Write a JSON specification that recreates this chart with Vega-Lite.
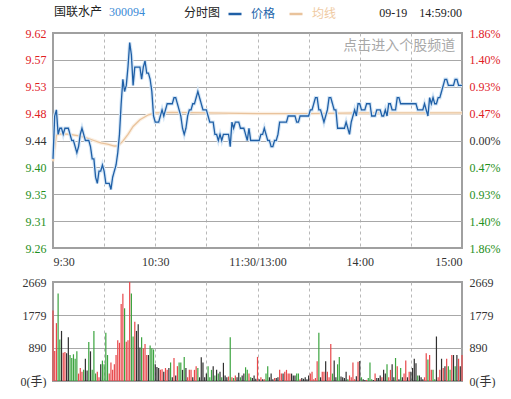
{
"$schema": "https://vega.github.io/schema/vega-lite/v6.json",
"background": "white",
"padding": {"left": 7, "top": 6, "right": 0, "bottom": 0},
"spacing": 7,
"config": {
  "view": {"stroke": "#a0a0a0", "strokeWidth": 2},
  "axis": {"labelFont": "Liberation Serif, Noto Sans CJK SC", "labelFontSize": 12, "labelColor": "#333333", "ticks": false, "domain": false, "title": null, "gridColor": "#a8a8a8", "gridWidth": 1},
  "legend": {"padding": 0, "titleFontWeight": "normal", "titleFontSize": 12, "labelFontSize": 12, "titleColor": "#222222", "titleFont": "Noto Sans CJK SC", "labelFont": "Noto Sans CJK SC"}
},
"datasets": {
  "price": [
{"t":0,"p":9.41},{"t":1,"p":9.48},{"t":2,"p":9.49},{"t":3,"p":9.45},{"t":4,"p":9.46},{"t":5,"p":9.46},{"t":6,"p":9.45},{"t":7,"p":9.46},{"t":8,"p":9.46},{"t":9,"p":9.46},
{"t":10,"p":9.45},{"t":11,"p":9.44},{"t":12,"p":9.44},{"t":13,"p":9.43},{"t":14,"p":9.42},{"t":15,"p":9.43},{"t":16,"p":9.45},{"t":17,"p":9.46},{"t":18,"p":9.45},{"t":19,"p":9.44},
{"t":20,"p":9.44},{"t":21,"p":9.44},{"t":22,"p":9.43},{"t":23,"p":9.41},{"t":24,"p":9.41},{"t":25,"p":9.38},{"t":26,"p":9.37},{"t":27,"p":9.39},{"t":28,"p":9.39},{"t":29,"p":9.40},
{"t":30,"p":9.39},{"t":31,"p":9.37},{"t":32,"p":9.37},{"t":33,"p":9.37},{"t":34,"p":9.36},{"t":35,"p":9.38},{"t":36,"p":9.39},{"t":37,"p":9.40},{"t":38,"p":9.42},{"t":39,"p":9.45},
{"t":40,"p":9.50},{"t":41,"p":9.54},{"t":42,"p":9.52},{"t":43,"p":9.53},{"t":44,"p":9.56},{"t":45,"p":9.60},{"t":46,"p":9.58},{"t":47,"p":9.53},{"t":48,"p":9.56},{"t":49,"p":9.56},
{"t":50,"p":9.56},{"t":51,"p":9.56},{"t":52,"p":9.54},{"t":53,"p":9.56},{"t":54,"p":9.57},{"t":55,"p":9.55},{"t":56,"p":9.55},{"t":57,"p":9.54},{"t":58,"p":9.52},{"t":59,"p":9.48},
{"t":60,"p":9.47},{"t":61,"p":9.47},{"t":62,"p":9.47},{"t":63,"p":9.48},{"t":64,"p":9.49},{"t":65,"p":9.48},{"t":66,"p":9.49},{"t":67,"p":9.50},{"t":68,"p":9.50},{"t":69,"p":9.50},
{"t":70,"p":9.50},{"t":71,"p":9.51},{"t":72,"p":9.51},{"t":73,"p":9.50},{"t":74,"p":9.49},{"t":75,"p":9.48},{"t":76,"p":9.46},{"t":77,"p":9.45},{"t":78,"p":9.46},{"t":79,"p":9.48},
{"t":80,"p":9.49},{"t":81,"p":9.49},{"t":82,"p":9.50},{"t":83,"p":9.50},{"t":84,"p":9.51},{"t":85,"p":9.52},{"t":86,"p":9.51},{"t":87,"p":9.50},{"t":88,"p":9.49},{"t":89,"p":9.49},
{"t":90,"p":9.49},{"t":91,"p":9.48},{"t":92,"p":9.47},{"t":93,"p":9.47},{"t":94,"p":9.47},{"t":95,"p":9.45},{"t":96,"p":9.45},{"t":97,"p":9.44},{"t":98,"p":9.45},{"t":99,"p":9.44},
{"t":100,"p":9.45},{"t":101,"p":9.45},{"t":102,"p":9.45},{"t":103,"p":9.45},{"t":104,"p":9.43},{"t":105,"p":9.47},{"t":106,"p":9.46},{"t":107,"p":9.47},{"t":108,"p":9.47},{"t":109,"p":9.47},
{"t":110,"p":9.46},{"t":111,"p":9.46},{"t":112,"p":9.46},{"t":113,"p":9.45},{"t":114,"p":9.44},{"t":115,"p":9.46},{"t":116,"p":9.44},{"t":117,"p":9.44},{"t":118,"p":9.44},{"t":119,"p":9.44},
{"t":120,"p":9.44},{"t":121,"p":9.44},{"t":122,"p":9.45},{"t":123,"p":9.45},{"t":124,"p":9.46},{"t":125,"p":9.45},{"t":126,"p":9.44},{"t":127,"p":9.44},{"t":128,"p":9.43},{"t":129,"p":9.43},
{"t":130,"p":9.44},{"t":131,"p":9.44},{"t":132,"p":9.45},{"t":133,"p":9.47},{"t":134,"p":9.47},{"t":135,"p":9.47},{"t":136,"p":9.47},{"t":137,"p":9.47},{"t":138,"p":9.48},{"t":139,"p":9.48},
{"t":140,"p":9.48},{"t":141,"p":9.48},{"t":142,"p":9.48},{"t":143,"p":9.47},{"t":144,"p":9.47},{"t":145,"p":9.48},{"t":146,"p":9.48},{"t":147,"p":9.48},{"t":148,"p":9.48},{"t":149,"p":9.48},
{"t":150,"p":9.48},{"t":151,"p":9.49},{"t":152,"p":9.49},{"t":153,"p":9.50},{"t":154,"p":9.51},{"t":155,"p":9.51},{"t":156,"p":9.49},{"t":157,"p":9.49},{"t":158,"p":9.48},{"t":159,"p":9.47},
{"t":160,"p":9.48},{"t":161,"p":9.49},{"t":162,"p":9.51},{"t":163,"p":9.51},{"t":164,"p":9.50},{"t":165,"p":9.49},{"t":166,"p":9.49},{"t":167,"p":9.46},{"t":168,"p":9.46},{"t":169,"p":9.46},
{"t":170,"p":9.46},{"t":171,"p":9.46},{"t":172,"p":9.47},{"t":173,"p":9.46},{"t":174,"p":9.45},{"t":175,"p":9.47},{"t":176,"p":9.48},{"t":177,"p":9.49},{"t":178,"p":9.48},{"t":179,"p":9.50},
{"t":180,"p":9.50},{"t":181,"p":9.49},{"t":182,"p":9.49},{"t":183,"p":9.49},{"t":184,"p":9.50},{"t":185,"p":9.50},{"t":186,"p":9.50},{"t":187,"p":9.48},{"t":188,"p":9.48},{"t":189,"p":9.48},
{"t":190,"p":9.49},{"t":191,"p":9.49},{"t":192,"p":9.49},{"t":193,"p":9.48},{"t":194,"p":9.48},{"t":195,"p":9.49},{"t":196,"p":9.48},{"t":197,"p":9.50},{"t":198,"p":9.50},{"t":199,"p":9.49},
{"t":200,"p":9.49},{"t":201,"p":9.49},{"t":202,"p":9.51},{"t":203,"p":9.51},{"t":204,"p":9.50},{"t":205,"p":9.50},{"t":206,"p":9.50},{"t":207,"p":9.50},{"t":208,"p":9.50},{"t":209,"p":9.50},
{"t":210,"p":9.50},{"t":211,"p":9.50},{"t":212,"p":9.50},{"t":213,"p":9.50},{"t":214,"p":9.49},{"t":215,"p":9.49},{"t":216,"p":9.49},{"t":217,"p":9.49},{"t":218,"p":9.50},{"t":219,"p":9.49},
{"t":220,"p":9.48},{"t":221,"p":9.51},{"t":222,"p":9.50},{"t":223,"p":9.51},{"t":224,"p":9.50},{"t":225,"p":9.50},{"t":226,"p":9.51},{"t":227,"p":9.51},{"t":228,"p":9.52},{"t":229,"p":9.53},
{"t":230,"p":9.54},{"t":231,"p":9.54},{"t":232,"p":9.53},{"t":233,"p":9.53},{"t":234,"p":9.53},{"t":235,"p":9.53},{"t":236,"p":9.54},{"t":237,"p":9.54},{"t":238,"p":9.53},{"t":239,"p":9.53},
{"t":240,"p":9.53}
  ],
  "avg": [
{"t":0,"a":9.406},{"t":2,"a":9.449},{"t":5,"a":9.451},{"t":10,"a":9.450},{"t":16,"a":9.447},{"t":20,"a":9.444},{"t":24,"a":9.440},{"t":28,"a":9.436},{"t":32,"a":9.434},{"t":36,"a":9.431},
{"t":38,"a":9.431},{"t":41,"a":9.439},{"t":44,"a":9.450},{"t":47,"a":9.463},{"t":51,"a":9.474},{"t":56,"a":9.482},{"t":60,"a":9.485},{"t":70,"a":9.486},{"t":90,"a":9.485},{"t":120,"a":9.484},
{"t":150,"a":9.484},{"t":180,"a":9.485},{"t":210,"a":9.485},{"t":240,"a":9.485}
  ],
  "vol": [
{"t":0,"v":1900,"d":"up"},{"t":1,"v":810,"d":"up"},{"t":2,"v":1560,"d":"up"},{"t":3,"v":2360,"d":"down"},{"t":4,"v":1120,"d":"down"},{"t":5,"v":1350,"d":"flat"},{"t":6,"v":760,"d":"up"},{"t":7,"v":780,"d":"up"},{"t":8,"v":750,"d":"flat"},{"t":9,"v":1180,"d":"flat"},
{"t":10,"v":700,"d":"down"},{"t":11,"v":620,"d":"down"},{"t":12,"v":720,"d":"down"},{"t":13,"v":600,"d":"down"},{"t":14,"v":800,"d":"down"},{"t":15,"v":200,"d":"up"},{"t":16,"v":350,"d":"up"},{"t":17,"v":250,"d":"up"},{"t":18,"v":300,"d":"down"},{"t":19,"v":600,"d":"flat"},
{"t":20,"v":280,"d":"flat"},{"t":21,"v":1050,"d":"down"},{"t":22,"v":800,"d":"flat"},{"t":23,"v":300,"d":"down"},{"t":24,"v":1350,"d":"down"},{"t":25,"v":200,"d":"down"},{"t":26,"v":250,"d":"up"},{"t":27,"v":100,"d":"up"},{"t":28,"v":450,"d":"flat"},{"t":29,"v":550,"d":"down"},
{"t":30,"v":450,"d":"down"},{"t":31,"v":1300,"d":"down"},{"t":32,"v":700,"d":"down"},{"t":33,"v":200,"d":"up"},{"t":34,"v":500,"d":"up"},{"t":35,"v":300,"d":"up"},{"t":36,"v":450,"d":"up"},{"t":37,"v":700,"d":"up"},{"t":38,"v":1100,"d":"up"},{"t":39,"v":1030,"d":"up"},
{"t":40,"v":2075,"d":"up"},{"t":41,"v":2350,"d":"up"},{"t":42,"v":1960,"d":"down"},{"t":43,"v":1060,"d":"up"},{"t":44,"v":1100,"d":"up"},{"t":45,"v":2669,"d":"up"},{"t":46,"v":2360,"d":"down"},{"t":47,"v":1200,"d":"down"},{"t":48,"v":1600,"d":"up"},{"t":49,"v":1350,"d":"flat"},
{"t":50,"v":1530,"d":"flat"},{"t":51,"v":900,"d":"flat"},{"t":52,"v":1180,"d":"down"},{"t":53,"v":880,"d":"up"},{"t":54,"v":1000,"d":"up"},{"t":55,"v":700,"d":"up"},{"t":56,"v":700,"d":"flat"},{"t":57,"v":960,"d":"down"},{"t":58,"v":880,"d":"down"},{"t":59,"v":850,"d":"down"},
{"t":60,"v":450,"d":"flat"},{"t":61,"v":380,"d":"flat"},{"t":62,"v":350,"d":"flat"},{"t":63,"v":300,"d":"up"},{"t":64,"v":320,"d":"up"},{"t":65,"v":250,"d":"flat"},{"t":66,"v":350,"d":"up"},{"t":67,"v":300,"d":"up"},{"t":68,"v":350,"d":"flat"},{"t":69,"v":500,"d":"down"},
{"t":70,"v":100,"d":"flat"},{"t":71,"v":620,"d":"up"},{"t":72,"v":150,"d":"flat"},{"t":73,"v":400,"d":"up"},{"t":74,"v":500,"d":"down"},{"t":75,"v":500,"d":"down"},{"t":76,"v":300,"d":"flat"},{"t":77,"v":650,"d":"down"},{"t":78,"v":350,"d":"flat"},{"t":79,"v":100,"d":"up"},
{"t":80,"v":300,"d":"up"},{"t":81,"v":300,"d":"up"},{"t":82,"v":100,"d":"flat"},{"t":83,"v":300,"d":"up"},{"t":84,"v":400,"d":"up"},{"t":85,"v":350,"d":"down"},{"t":86,"v":100,"d":"flat"},{"t":87,"v":640,"d":"flat"},{"t":88,"v":500,"d":"flat"},{"t":89,"v":100,"d":"flat"},
{"t":90,"v":200,"d":"flat"},{"t":91,"v":400,"d":"down"},{"t":92,"v":100,"d":"down"},{"t":93,"v":300,"d":"down"},{"t":94,"v":400,"d":"flat"},{"t":95,"v":150,"d":"down"},{"t":96,"v":300,"d":"flat"},{"t":97,"v":200,"d":"down"},{"t":98,"v":250,"d":"flat"},{"t":99,"v":100,"d":"down"},
{"t":100,"v":490,"d":"flat"},{"t":101,"v":150,"d":"flat"},{"t":102,"v":100,"d":"flat"},{"t":103,"v":120,"d":"up"},{"t":104,"v":1180,"d":"down"},{"t":105,"v":100,"d":"up"},{"t":106,"v":80,"d":"down"},{"t":107,"v":150,"d":"up"},{"t":108,"v":100,"d":"flat"},{"t":109,"v":220,"d":"flat"},
{"t":110,"v":100,"d":"down"},{"t":111,"v":150,"d":"flat"},{"t":112,"v":200,"d":"flat"},{"t":113,"v":370,"d":"down"},{"t":114,"v":300,"d":"down"},{"t":115,"v":200,"d":"up"},{"t":116,"v":100,"d":"down"},{"t":117,"v":80,"d":"flat"},{"t":118,"v":150,"d":"flat"},{"t":119,"v":60,"d":"flat"},
{"t":120,"v":650,"d":"up"},{"t":121,"v":50,"d":"flat"},{"t":122,"v":100,"d":"up"},{"t":123,"v":50,"d":"flat"},{"t":124,"v":50,"d":"up"},{"t":125,"v":200,"d":"down"},{"t":126,"v":400,"d":"down"},{"t":127,"v":100,"d":"flat"},{"t":128,"v":200,"d":"flat"},{"t":129,"v":50,"d":"flat"},
{"t":130,"v":80,"d":"up"},{"t":131,"v":80,"d":"flat"},{"t":132,"v":100,"d":"flat"},{"t":133,"v":300,"d":"up"},{"t":134,"v":200,"d":"up"},{"t":135,"v":200,"d":"flat"},{"t":136,"v":250,"d":"up"},{"t":137,"v":300,"d":"up"},{"t":138,"v":200,"d":"up"},{"t":139,"v":200,"d":"up"},
{"t":140,"v":200,"d":"flat"},{"t":141,"v":150,"d":"flat"},{"t":142,"v":150,"d":"flat"},{"t":143,"v":200,"d":"down"},{"t":144,"v":200,"d":"down"},{"t":145,"v":50,"d":"up"},{"t":146,"v":80,"d":"flat"},{"t":147,"v":60,"d":"flat"},{"t":148,"v":100,"d":"flat"},{"t":149,"v":50,"d":"flat"},
{"t":150,"v":150,"d":"flat"},{"t":151,"v":200,"d":"up"},{"t":152,"v":250,"d":"up"},{"t":153,"v":50,"d":"up"},{"t":154,"v":80,"d":"up"},{"t":155,"v":530,"d":"up"},{"t":156,"v":1300,"d":"down"},{"t":157,"v":100,"d":"flat"},{"t":158,"v":250,"d":"up"},{"t":159,"v":250,"d":"up"},
{"t":160,"v":530,"d":"flat"},{"t":161,"v":250,"d":"up"},{"t":162,"v":100,"d":"up"},{"t":163,"v":1000,"d":"up"},{"t":164,"v":200,"d":"down"},{"t":165,"v":550,"d":"flat"},{"t":166,"v":100,"d":"flat"},{"t":167,"v":450,"d":"down"},{"t":168,"v":650,"d":"down"},{"t":169,"v":120,"d":"flat"},
{"t":170,"v":100,"d":"flat"},{"t":171,"v":80,"d":"flat"},{"t":172,"v":250,"d":"flat"},{"t":173,"v":50,"d":"down"},{"t":174,"v":150,"d":"up"},{"t":175,"v":100,"d":"up"},{"t":176,"v":500,"d":"up"},{"t":177,"v":50,"d":"up"},{"t":178,"v":130,"d":"flat"},{"t":179,"v":520,"d":"up"},
{"t":180,"v":540,"d":"flat"},{"t":181,"v":100,"d":"down"},{"t":182,"v":50,"d":"flat"},{"t":183,"v":30,"d":"flat"},{"t":184,"v":30,"d":"up"},{"t":185,"v":80,"d":"down"},{"t":186,"v":500,"d":"down"},{"t":187,"v":50,"d":"down"},{"t":188,"v":30,"d":"flat"},{"t":189,"v":200,"d":"up"},
{"t":190,"v":80,"d":"flat"},{"t":191,"v":80,"d":"flat"},{"t":192,"v":150,"d":"flat"},{"t":193,"v":100,"d":"up"},{"t":194,"v":300,"d":"flat"},{"t":195,"v":200,"d":"flat"},{"t":196,"v":450,"d":"down"},{"t":197,"v":100,"d":"up"},{"t":198,"v":300,"d":"up"},{"t":199,"v":450,"d":"flat"},
{"t":200,"v":100,"d":"flat"},{"t":201,"v":620,"d":"down"},{"t":202,"v":400,"d":"up"},{"t":203,"v":50,"d":"flat"},{"t":204,"v":350,"d":"down"},{"t":205,"v":100,"d":"flat"},{"t":206,"v":200,"d":"up"},{"t":207,"v":550,"d":"up"},{"t":208,"v":100,"d":"flat"},{"t":209,"v":250,"d":"up"},
{"t":210,"v":250,"d":"flat"},{"t":211,"v":350,"d":"flat"},{"t":212,"v":600,"d":"flat"},{"t":213,"v":480,"d":"flat"},{"t":214,"v":150,"d":"down"},{"t":215,"v":150,"d":"flat"},{"t":216,"v":100,"d":"flat"},{"t":217,"v":50,"d":"flat"},{"t":218,"v":100,"d":"up"},{"t":219,"v":750,"d":"up"},
{"t":220,"v":580,"d":"down"},{"t":221,"v":700,"d":"up"},{"t":222,"v":300,"d":"up"},{"t":223,"v":300,"d":"down"},{"t":224,"v":50,"d":"down"},{"t":225,"v":1200,"d":"flat"},{"t":226,"v":100,"d":"up"},{"t":227,"v":300,"d":"up"},{"t":228,"v":600,"d":"flat"},{"t":229,"v":350,"d":"up"},
{"t":230,"v":400,"d":"flat"},{"t":231,"v":600,"d":"up"},{"t":232,"v":400,"d":"down"},{"t":233,"v":300,"d":"down"},{"t":234,"v":700,"d":"up"},{"t":235,"v":700,"d":"flat"},{"t":236,"v":400,"d":"down"},{"t":237,"v":700,"d":"flat"},{"t":238,"v":600,"d":"up"},{"t":239,"v":400,"d":"flat"},
{"t":240,"v":700,"d":"up"}
  ]
},
"vconcat": [
  {
    "width": 409,
    "height": 215,
    "title": {"text": "09-19\u00a0\u00a0\u00a0\u00a014:59:00", "anchor": "end", "frame": "group", "fontSize": 12, "fontWeight": "normal", "font": "Liberation Serif", "color": "#222222", "offset": 7},
    "resolve": {"scale": {"y": "independent"}},
    "layer": [
      {
        "data": {"name": "avg"},
        "mark": {"type": "line", "color": "#fbf0e4", "strokeWidth": 3.5},
        "encoding": {
          "x": {"field": "t", "type": "quantitative", "scale": {"domain": [0, 240], "nice": false, "zero": false},
            "axis": {"values": [0, 30, 60, 90, 120, 150, 180, 210, 240], "labelExpr": "datum.value == 0 ? '9:30' : datum.value == 60 ? '10:30' : datum.value == 120 ? '11:30/13:00' : datum.value == 180 ? '14:00' : datum.value == 240 ? '15:00' : ''", "labelFlush": true, "labelOverlap": false, "labelPadding": 8, "grid": true, "gridDash": [3, 3], "gridColor": {"condition": {"test": "datum.value == 0 || datum.value == 240", "value": "transparent"}, "value": "#b8b8b8"}}},
          "y": {"field": "a", "type": "quantitative", "scale": {"domain": [9.2644, 9.6156], "nice": false, "zero": false},
            "axis": {"orient": "left", "values": [9.2644, 9.3083, 9.3522, 9.3961, 9.44, 9.4839, 9.5278, 9.5717, 9.6156], "format": ".2f", "labelPadding": 7, "minExtent": 45, "grid": true,
              "gridColor": {"condition": {"test": "datum.value < 9.27 || datum.value > 9.61", "value": "transparent"}, "value": "#a8a8a8"},
              "labelColor": {"expr": "datum.value > 9.45 ? '#e0201f' : datum.value < 9.43 ? '#1f8f22' : '#333333'"}}}
        }
      },
      {
        "data": {"name": "avg"},
        "mark": {"type": "line", "strokeWidth": 1.3},
        "encoding": {
          "x": {"field": "t", "type": "quantitative", "scale": {"domain": [0, 240], "nice": false, "zero": false}},
          "y": {"field": "a", "type": "quantitative", "scale": {"domain": [9.2644, 9.6156], "nice": false, "zero": false},
            "axis": {"orient": "right", "values": [9.2644, 9.3083, 9.3522, 9.3961, 9.44, 9.4839, 9.5278, 9.5717, 9.6156], "labelExpr": "format(abs(datum.value - 9.44) / 9.44 * 100, '.2f') + '%'", "labelPadding": 7, "minExtent": 45, "grid": false,
              "labelColor": {"expr": "datum.value > 9.45 ? '#e0201f' : datum.value < 9.43 ? '#1f8f22' : '#333333'"}}},
          "color": {"datum": "均线", "type": "nominal"}
        }
      },
      {
        "data": {"name": "price"},
        "mark": {"type": "line", "color": "#d5e6f6", "strokeWidth": 3.5},
        "encoding": {
          "x": {"field": "t", "type": "quantitative", "scale": {"domain": [0, 240], "nice": false, "zero": false}},
          "y": {"field": "p", "type": "quantitative", "scale": {"domain": [9.2644, 9.6156], "nice": false, "zero": false}, "axis": null}
        }
      },
      {
        "data": {"name": "price"},
        "mark": {"type": "line", "strokeWidth": 1.3},
        "encoding": {
          "x": {"field": "t", "type": "quantitative", "scale": {"domain": [0, 240], "nice": false, "zero": false}},
          "y": {"field": "p", "type": "quantitative", "scale": {"domain": [9.2644, 9.6156], "nice": false, "zero": false}, "axis": null},
          "color": {"datum": "价格", "type": "nominal", "scale": {"domain": ["价格", "均线"], "range": ["#1f5fa6", "#e9c39c"]},
            "legend": {"title": "分时图", "orient": "none", "legendX": 131, "legendY": -27, "direction": "horizontal", "titleOrient": "left", "titlePadding": 6, "symbolType": "stroke", "symbolStrokeWidth": 2.5, "symbolSize": 169, "labelOffset": 8, "columnPadding": 8,
              "encode": {"labels": {"update": {"fill": {"signal": "datum.value === '价格' ? '#2465ab' : '#efcaa2'"}}}}}},
          "strokeDash": {"datum": "300094", "type": "nominal", "scale": {"domain": ["300094"], "range": [[1, 0]]},
            "legend": {"title": "国联水产", "orient": "none", "legendX": 1, "legendY": -27, "direction": "horizontal", "titleOrient": "left", "titlePadding": -6, "symbolOpacity": 0, "symbolSize": 0, "symbolStrokeWidth": 0, "labelOffset": 0, "labelColor": "#3a8ad6", "labelFont": "Liberation Serif"}}
        }
      },
      {
        "data": {"values": [{}]},
        "mark": {"type": "text", "align": "right", "baseline": "middle", "fontSize": 14, "color": "#a8a8a8", "font": "Noto Sans CJK SC"},
        "encoding": {
          "x": {"datum": 236, "type": "quantitative", "scale": {"domain": [0, 240], "nice": false, "zero": false}},
          "y": {"datum": 9.5936, "type": "quantitative", "scale": {"domain": [9.2644, 9.6156], "nice": false, "zero": false}, "axis": null},
          "text": {"value": "点击进入个股频道"}
        }
      }
    ]
  },
  {
    "width": 409,
    "height": 99,
    "data": {"name": "vol"},
    "resolve": {"scale": {"y": "independent"}},
    "encoding": {
      "x": {"field": "t", "type": "quantitative", "scale": {"domain": [0, 240], "nice": false, "zero": false},
        "axis": {"values": [30, 60, 90, 120, 150, 180, 210], "labels": false, "grid": true, "gridDash": [3, 3], "gridColor": "#b8b8b8", "minExtent": 0}}
    },
    "layer": [
      {
        "transform": [{"filter": "datum.d === 'up'"}],
        "mark": {"type": "rule", "strokeWidth": 1.2, "color": "#e8474a"},
        "encoding": {
          "y": {"field": "v", "type": "quantitative", "scale": {"domain": [0, 2669], "nice": false},
            "axis": {"orient": "left", "values": [0, 889.67, 1779.33, 2669], "labelExpr": "datum.value == 0 ? '0(手)' : format(datum.value, '.0f')", "labelPadding": 7, "minExtent": 45, "grid": true,
              "gridColor": {"condition": {"test": "datum.value < 1 || datum.value > 2668", "value": "transparent"}, "value": "#a8a8a8"}}},
          "y2": {"datum": 0}
        }
      },
      {
        "transform": [{"filter": "datum.d === 'down'"}],
        "mark": {"type": "rule", "strokeWidth": 1.2, "color": "#3ba43f"},
        "encoding": {
          "y": {"field": "v", "type": "quantitative", "scale": {"domain": [0, 2669], "nice": false},
            "axis": {"orient": "right", "values": [0, 889.67, 1779.33, 2669], "labelExpr": "datum.value == 0 ? '0(手)' : format(datum.value, '.0f')", "labelPadding": 7, "minExtent": 45, "grid": false}},
          "y2": {"datum": 0}
        }
      },
      {
        "transform": [{"filter": "datum.d === 'flat'"}],
        "mark": {"type": "rule", "strokeWidth": 1.2, "color": "#303030"},
        "encoding": {
          "y": {"field": "v", "type": "quantitative", "scale": {"domain": [0, 2669], "nice": false}, "axis": null},
          "y2": {"datum": 0}
        }
      }
    ]
  }
]
}
